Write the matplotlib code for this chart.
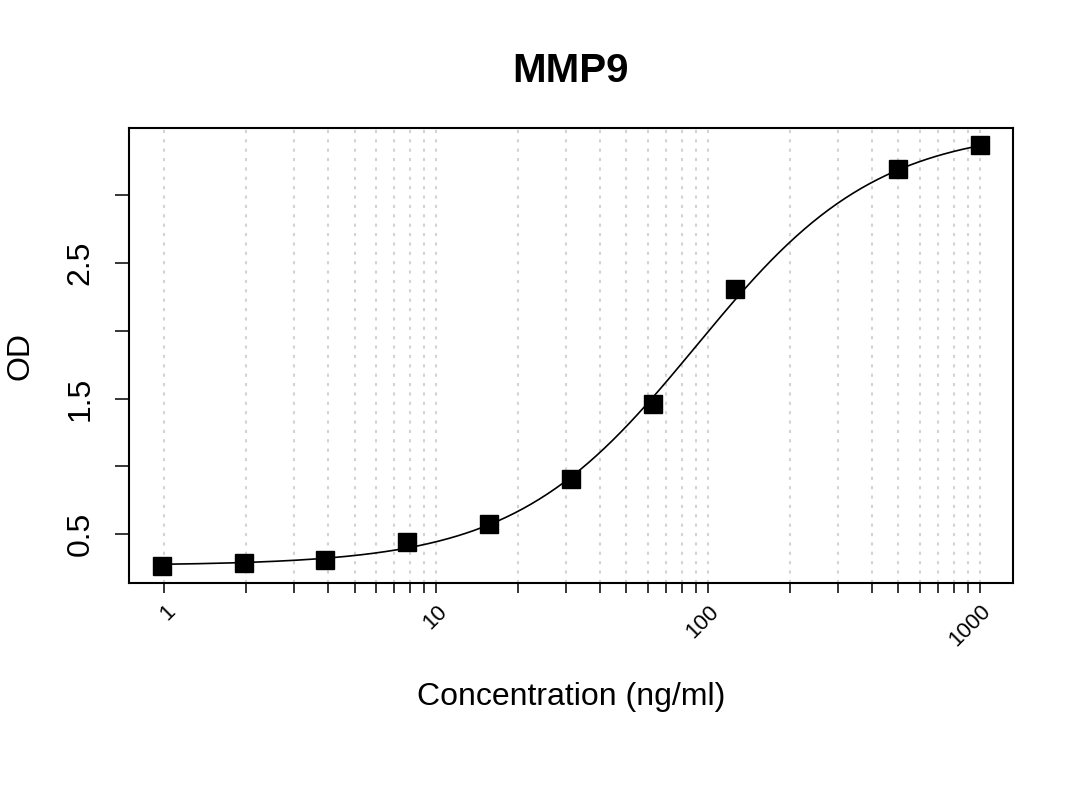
import numpy as np
import matplotlib.pyplot as plt
import matplotlib.transforms as mtransforms

plt.rcParams['font.family'] = ['Liberation Sans', 'DejaVu Sans']

# standard dilution series (ng/ml) and measured OD
conc = [0.977, 1.953, 3.906, 7.8125, 15.625, 31.25, 62.5, 125, 500, 1000]
od = [0.265, 0.287, 0.31, 0.44, 0.574, 0.904, 1.463, 2.309, 3.19, 3.37]

# 4PL fit parameters: bottom, slope, ec50, top
fit_bottom, fit_slope, fit_ec50, fit_top = 0.27, 1.3, 90.0, 3.5

xs = np.logspace(np.log10(min(conc)), np.log10(max(conc)), 400)
ys = fit_top + (fit_bottom - fit_top) / (1 + (xs / fit_ec50) ** fit_slope)

grid_x = [m * 10 ** e for e in range(0, 3) for m in range(1, 10)] + [1000]
major_labels = {1: '1', 10: '10', 100: '100', 1000: '1000'}

fig = plt.figure(figsize=(10.8, 8.1), dpi=100)
ax = fig.add_axes([0.1194, 0.2802, 0.8186, 0.5618])
ax.set_xscale('log')

for gx in grid_x:
    ax.axvline(gx, color='#d3d3d3', linestyle=(0, (1.5, 3)), linewidth=1.5, zorder=0)

ax.plot(xs, ys, color='black', linewidth=1.2, zorder=2)
ax.plot(conc, od, 's', color='black', markersize=13.5, zorder=3)

lx = np.log10(conc)
ax.set_xlim(10 ** (lx.min() - 0.04 * (lx.max() - lx.min())), 10 ** (lx.max() + 0.04 * (lx.max() - lx.min())))
ax.set_ylim(min(od) - 0.04 * (max(od) - min(od)), max(od) + 0.04 * (max(od) - min(od)))

ax.set_xticks(grid_x)
ax.set_xticklabels([major_labels.get(g, '') for g in grid_x])
ax.set_xticks([], minor=True)
shift = mtransforms.ScaledTranslation(-0.03, 0.06, fig.dpi_scale_trans)
for lab in ax.get_xticklabels():
    lab.set_rotation(45)
    lab.set_ha('right')
    lab.set_va('top')
    lab.set_rotation_mode('anchor')
    lab.set_fontsize(16)
    lab.set_transform(lab.get_transform() + shift)
ax.tick_params(axis='x', length=7, width=1.1, pad=6)

ax.set_yticks([0.5, 1.0, 1.5, 2.0, 2.5, 3.0])
ax.set_yticklabels(['0.5', '', '1.5', '', '2.5', ''], rotation=90, va='center', fontsize=23)
ax.tick_params(axis='y', length=10, width=1.1, pad=14)

for s in ax.spines.values():
    s.set_linewidth(1.5)

ax.set_xlabel('Concentration (ng/ml)', fontsize=23, labelpad=22)
ax.set_ylabel('OD', fontsize=23, labelpad=22)
ax.set_title('MMP9', fontsize=29, fontweight='bold', pad=33)

fig.savefig('out.png', dpi=100)
